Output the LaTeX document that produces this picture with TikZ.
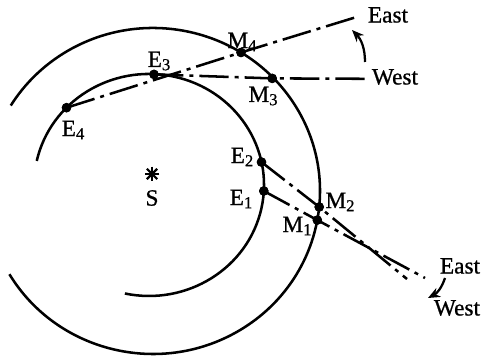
\documentclass[tikz,border=0pt]{standalone}
\usepackage{fontspec}
\setmainfont{Liberation Serif}[FakeBold=0.8]
\usetikzlibrary{arrows.meta}
\newcommand\sbs[1]{\raisebox{-2.4pt}{\fontsize{12.5}{12.5}\selectfont #1}}
\begin{document}
\begin{tikzpicture}[x=0.75pt,y=0.75pt,
  orbit/.style={line width=1.9pt},
  sight/.style={line width=1.9pt, dash pattern=on 22pt off 4.5pt on 3pt off 4.5pt},
  dot/.style={circle, fill=black, inner sep=0pt, minimum size=7pt},
  lab/.style={inner sep=0pt, font=\fontsize{17.5}{20}\selectfont},
  turn/.style={line width=1.7pt, -{Stealth[length=9pt,width=7.5pt]}}]
\useasboundingbox (0,0) rectangle (481,359);

% orbits
\draw[orbit] (124.9,65.5) arc[start angle=-102.1, end angle=167.5, x radius=86.25pt, y radius=83.25pt];
\draw[orbit] (9.4,84.8) arc[start angle=-149.3, end angle=148.4, x radius=125.25pt, y radius=122.25pt];

% positions
\node[dot] (E1) at (263.8,168.0) {};
\node[dot] (E2) at (261.5,196.9) {};
\node[dot] (E3) at (154.0,284.6) {};
\node[dot] (E4) at (66.5,251.3) {};
\node[dot] (M1) at (317.3,138.9) {};
\node[dot] (M2) at (319.2,152.0) {};
\node[dot] (M3) at (272.2,280.6) {};
\node[dot] (M4) at (241.0,306.5) {};

\coordinate (endA) at (355,341.5);
\coordinate (endB) at (365,280.2);
\coordinate (endC) at (407,80);
\coordinate (endD) at (425,81);

% lines of sight
\draw[sight] (E4.center) -- (M4.center) -- (endA);
\draw[sight] (E3.center) -- (M3.center) -- (endB);
\draw[sight] (E2.center) -- (M2.center) -- (endC);
\draw[sight] (E1.center) -- (M1.center) -- (endD);

% redraw dots on top
\foreach \p in {E1,E2,E3,E4,M1,M2,M3,M4}
  \fill (\p.center) circle[radius=3.6pt];

% turning arrows
\coordinate (tA) at (365,297);
\coordinate (tB) at (352,329);
\coordinate (bA) at (445,81);
\coordinate (bB) at (428,61);
\draw[turn] (tA) to[bend right=22] (tB);
\draw[turn] (bA) to[bend left=22] (bB);

% sun
\coordinate (Sun) at (152,185);
\foreach \a in {0,45,90,135}
  \draw[line width=1.6pt] (Sun) ++(\a:5.5pt) -- ++(\a+180:11pt);

% labels
\node[lab] (lM4) at (242,317) {M\sbs{4}};
\node[lab] (lE3) at (159,298) {E\sbs{3}};
\node[lab] (lM3) at (263,263) {M\sbs{3}};
\node[lab] (lE4) at (73,229) {E\sbs{4}};
\node[lab] (lE2) at (242,202) {E\sbs{2}};
\node[lab] (lE1) at (241,160) {E\sbs{1}};
\node[lab] (lM2) at (340,157) {M\sbs{2}};
\node[lab] (lM1) at (297,133) {M\sbs{1}};
\node[lab] (lEastT) at (388,344) {East};
\node[lab] (lWestT) at (395,282) {West};
\node[lab] (lEastB) at (460,93) {East};
\node[lab] (lWestB) at (457,51) {West};
\node[lab] (lS) at (152,161) {S};
\end{tikzpicture}
\end{document}
